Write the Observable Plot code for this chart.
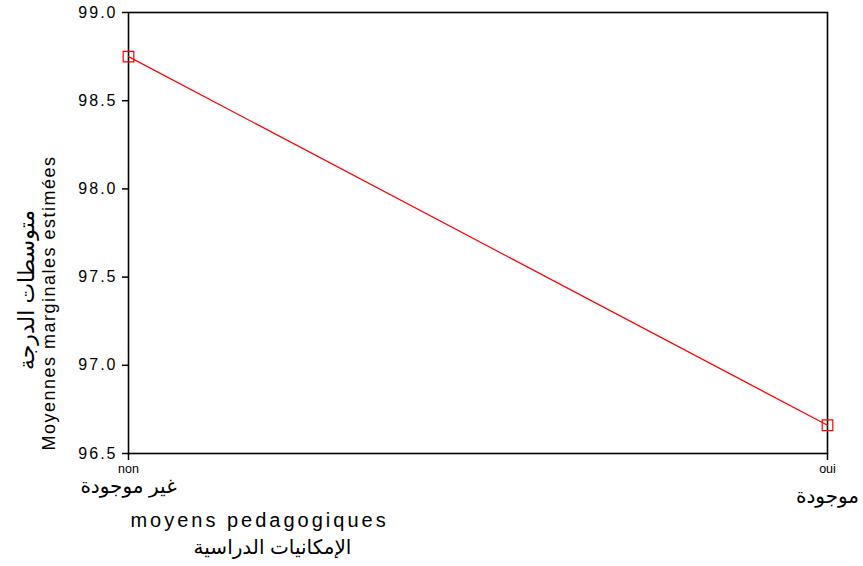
<!DOCTYPE html>
<html>
<head>
<meta charset="utf-8">
<script src="https://cdn.jsdelivr.net/npm/d3@7"></script>
<script src="https://cdn.jsdelivr.net/npm/@observablehq/plot@0.6"></script>
<style>
body { margin: 0; background: #fff; }
</style>
</head>
<body>
<div id="chart"></div>
<script>
const categories = ["non", "oui"];
const categoriesAr = ["غير موجودة", "موجودة"];
const means = [98.75, 96.66];
const yTicks = [96.5, 97.0, 97.5, 98.0, 98.5, 99.0];
const xTitle = "moyens pedagogiques";
const xTitleAr = "الإمكانيات الدراسية";
const yTitle = "Moyennes marginales estimées";
const yTitleAr = "متوسطات الدرجة";

const data = categories.map((c, i) => ({cat: c, ar: categoriesAr[i], value: means[i]}));

const chart = Plot.plot({
  width: 863,
  height: 566,
  marginLeft: 128,
  marginRight: 36,
  marginTop: 12,
  marginBottom: 113,
  style: {fontFamily: "'Liberation Sans', Arial, 'DejaVu Sans', sans-serif", background: "#fff"},
  x: {type: "point", domain: categories, padding: 0},
  y: {domain: [96.5, 99.0]},
  marks: [
    Plot.frame({stroke: "#000", strokeWidth: 1.6}),
    Plot.axisY({ticks: yTicks, tickFormat: d3.format(".1f"), tickSize: 6, tickPadding: 5, fontSize: 16, stroke: "#000", strokeWidth: 1.5, label: null, color: "#000"}),
    Plot.axisX({tickSize: 7, tickFormat: () => "", label: null, stroke: "#000", strokeWidth: 1.5}),
    Plot.text(data, {x: "cat", text: "cat", frameAnchor: "bottom", lineAnchor: "middle", dy: 15, fontSize: 12.5, fill: "#000"}),
    Plot.text(data.filter(d => d.cat === "non"), {x: "cat", text: "ar", frameAnchor: "bottom", lineAnchor: "middle", dy: 33, fontSize: 20, fill: "#000"}),
    Plot.text(data.filter(d => d.cat === "oui"), {x: "cat", text: "ar", frameAnchor: "bottom", lineAnchor: "middle", dy: 43, fontSize: 20, fill: "#000"}),
    Plot.line(data, {x: "cat", y: "value", stroke: "red", strokeWidth: 1.2}),
    Plot.dot(data, {x: "cat", y: "value", symbol: "square", r: 6, stroke: "red", strokeWidth: 1.2, fill: "none"}),
    Plot.text([xTitle], {text: d => d, frameAnchor: "bottom-left", textAnchor: "middle", lineAnchor: "middle", dx: 131, dy: 67, fontSize: 20, fill: "#000"}),
    Plot.text([xTitleAr], {text: d => d, frameAnchor: "bottom-left", textAnchor: "middle", lineAnchor: "middle", dx: 144, dy: 94, fontSize: 20, fill: "#000"}),
    Plot.text([yTitle], {text: d => d, frameAnchor: "left", textAnchor: "middle", lineAnchor: "middle", dx: -79, dy: 70, rotate: -90, fontSize: 18, fill: "#000"}),
    Plot.text([yTitleAr], {text: d => d, frameAnchor: "left", textAnchor: "middle", lineAnchor: "middle", dx: -102, dy: 57, rotate: -90, fontSize: 22, fill: "#000"})
  ]
});
const sel = d3.select(chart);
sel.selectAll('g[aria-label="y-axis tick label"] text').style("letter-spacing", "2px");
sel.selectAll("text").each(function() {
  const t = this.textContent;
  if (t === xTitle) d3.select(this).style("letter-spacing", "3px");
  if (t === yTitle) d3.select(this).style("letter-spacing", "1.5px");
});
document.getElementById("chart").appendChild(chart);
</script>
</body>
</html>
